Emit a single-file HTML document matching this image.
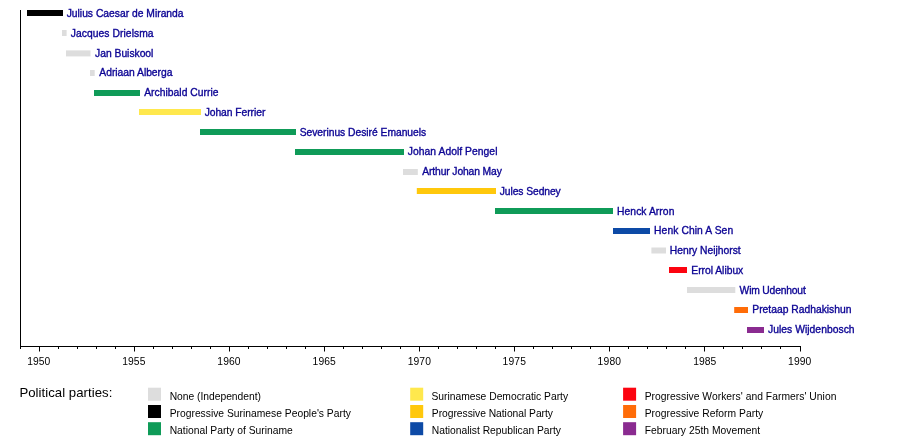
<!DOCTYPE html>
<html lang="en">
<head>
<meta charset="utf-8">
<title>Prime Ministers of Suriname timeline</title>
<style>
html,body{margin:0;padding:0;background:#fff;}
body{width:900px;height:446px;overflow:hidden;}
svg{display:block;}
text{font-family:"Liberation Sans", sans-serif;font-size:10.3px;white-space:pre;}
.nm{fill:#0c0494;stroke:#0c0494;stroke-width:0.35px;}
.ax{fill:#000;}
.lg{fill:#000;}
.ttl{fill:#000;font-size:13.2px;}
</style>
</head>
<body>
<svg width="900" height="446" viewBox="0 0 900 446">
<rect x="0" y="0" width="900" height="446" fill="#ffffff"/>
<rect x="27.0" y="10.00" width="36.0" height="6.0" fill="#000000"/>
<text class="nm" id="b0" x="66.65" y="17.00" textLength="116.92" lengthAdjust="spacing">Julius Caesar de Miranda</text>
<rect x="62.0" y="30.00" width="4.6" height="6.0" fill="#dddddd"/>
<text class="nm" id="b1" x="70.74" y="37.00" textLength="82.86" lengthAdjust="spacing">Jacques Drielsma</text>
<rect x="66.0" y="50.40" width="24.5" height="6.0" fill="#dddddd"/>
<text class="nm" id="b2" x="95.08" y="57.00" textLength="58.31" lengthAdjust="spacing">Jan Buiskool</text>
<rect x="90.0" y="70.00" width="4.7" height="6.0" fill="#dddddd"/>
<text class="nm" id="b3" x="99.36" y="76.00" textLength="73.08" lengthAdjust="spacing">Adriaan Alberga</text>
<rect x="94.0" y="90.00" width="46.0" height="6.0" fill="#0f9b58"/>
<text class="nm" id="b4" x="144.14" y="96.00" textLength="74.38" lengthAdjust="spacing">Archibald Currie</text>
<rect x="139.0" y="109.00" width="62.0" height="6.0" fill="#ffe84d"/>
<text class="nm" id="b5" x="204.65" y="116.00" textLength="60.72" lengthAdjust="spacing">Johan Ferrier</text>
<rect x="200.0" y="129.00" width="96.0" height="6.0" fill="#0f9b58"/>
<text class="nm" id="b6" x="299.65" y="136.00" textLength="126.53" lengthAdjust="spacing">Severinus Desiré Emanuels</text>
<rect x="295.0" y="149.00" width="109.0" height="6.0" fill="#0f9b58"/>
<text class="nm" id="b7" x="407.81" y="155.00" textLength="89.64" lengthAdjust="spacing">Johan Adolf Pengel</text>
<rect x="403.0" y="169.00" width="14.8" height="6.0" fill="#dddddd"/>
<text class="nm" id="b8" x="422.27" y="175.00" textLength="79.54" lengthAdjust="spacing">Arthur Johan May</text>
<rect x="416.8" y="188.00" width="79.2" height="6.0" fill="#ffc80c"/>
<text class="nm" id="b9" x="499.70" y="195.00" textLength="61.07" lengthAdjust="spacing">Jules Sedney</text>
<rect x="495.0" y="208.00" width="118.0" height="6.0" fill="#0f9b58"/>
<text class="nm" id="b10" x="617.06" y="215.00" textLength="57.32" lengthAdjust="spacing">Henck Arron</text>
<rect x="613.0" y="228.00" width="37.0" height="6.0" fill="#0d4aa6"/>
<text class="nm" id="b11" x="654.06" y="234.00" textLength="79.07" lengthAdjust="spacing">Henk Chin A Sen</text>
<rect x="651.4" y="247.50" width="14.6" height="6.0" fill="#dddddd"/>
<text class="nm" id="b12" x="669.79" y="254.00" textLength="70.86" lengthAdjust="spacing">Henry Neijhorst</text>
<rect x="669.0" y="267.00" width="18.0" height="6.0" fill="#fc0410"/>
<text class="nm" id="b13" x="691.29" y="274.00" textLength="51.96" lengthAdjust="spacing">Errol Alibux</text>
<rect x="687.0" y="287.00" width="48.3" height="6.0" fill="#dddddd"/>
<text class="nm" id="b14" x="739.60" y="294.00" textLength="66.17" lengthAdjust="spacing">Wim Udenhout</text>
<rect x="734.2" y="307.00" width="13.8" height="6.0" fill="#ff6c08"/>
<text class="nm" id="b15" x="752.31" y="313.00" textLength="99.12" lengthAdjust="spacing">Pretaap Radhakishun</text>
<rect x="747.0" y="327.00" width="17.0" height="6.0" fill="#8a2b90"/>
<text class="nm" id="b16" x="768.01" y="333.00" textLength="86.55" lengthAdjust="spacing">Jules Wijdenbosch</text>
<rect x="20" y="10" width="1" height="337" fill="#000"/>
<rect x="20" y="346" width="781" height="1" fill="#000"/>
<rect x="20" y="346" width="1" height="3" fill="#000"/>
<rect x="39" y="346" width="1" height="5.5" fill="#000"/>
<text class="ax" id="y1950" x="27.31" y="365.00" textLength="23.01" lengthAdjust="spacing">1950</text>
<rect x="58" y="346" width="1" height="3" fill="#000"/>
<rect x="77" y="346" width="1" height="3" fill="#000"/>
<rect x="96" y="346" width="1" height="3" fill="#000"/>
<rect x="115" y="346" width="1" height="3" fill="#000"/>
<rect x="134" y="346" width="1" height="5.5" fill="#000"/>
<text class="ax" id="y1955" x="122.29" y="365.00" textLength="23.08" lengthAdjust="spacing">1955</text>
<rect x="153" y="346" width="1" height="3" fill="#000"/>
<rect x="172" y="346" width="1" height="3" fill="#000"/>
<rect x="191" y="346" width="1" height="3" fill="#000"/>
<rect x="210" y="346" width="1" height="3" fill="#000"/>
<rect x="229" y="346" width="1" height="5.5" fill="#000"/>
<text class="ax" id="y1960" x="217.32" y="365.00" textLength="23.15" lengthAdjust="spacing">1960</text>
<rect x="248" y="346" width="1" height="3" fill="#000"/>
<rect x="267" y="346" width="1" height="3" fill="#000"/>
<rect x="286" y="346" width="1" height="3" fill="#000"/>
<rect x="305" y="346" width="1" height="3" fill="#000"/>
<rect x="324" y="346" width="1" height="5.5" fill="#000"/>
<text class="ax" id="y1965" x="312.56" y="365.00" textLength="23.19" lengthAdjust="spacing">1965</text>
<rect x="343" y="346" width="1" height="3" fill="#000"/>
<rect x="362" y="346" width="1" height="3" fill="#000"/>
<rect x="381" y="346" width="1" height="3" fill="#000"/>
<rect x="400" y="346" width="1" height="3" fill="#000"/>
<rect x="419" y="346" width="1" height="5.5" fill="#000"/>
<text class="ax" id="y1970" x="407.69" y="365.00" textLength="23.25" lengthAdjust="spacing">1970</text>
<rect x="438" y="346" width="1" height="3" fill="#000"/>
<rect x="457" y="346" width="1" height="3" fill="#000"/>
<rect x="476" y="346" width="1" height="3" fill="#000"/>
<rect x="495" y="346" width="1" height="3" fill="#000"/>
<rect x="514" y="346" width="1" height="5.5" fill="#000"/>
<text class="ax" id="y1975" x="502.48" y="365.00" textLength="23.50" lengthAdjust="spacing">1975</text>
<rect x="533" y="346" width="1" height="3" fill="#000"/>
<rect x="552" y="346" width="1" height="3" fill="#000"/>
<rect x="571" y="346" width="1" height="3" fill="#000"/>
<rect x="590" y="346" width="1" height="3" fill="#000"/>
<rect x="609" y="346" width="1" height="5.5" fill="#000"/>
<text class="ax" id="y1980" x="597.54" y="365.00" textLength="23.49" lengthAdjust="spacing">1980</text>
<rect x="628" y="346" width="1" height="3" fill="#000"/>
<rect x="647" y="346" width="1" height="3" fill="#000"/>
<rect x="666" y="346" width="1" height="3" fill="#000"/>
<rect x="685" y="346" width="1" height="3" fill="#000"/>
<rect x="704" y="346" width="1" height="5.5" fill="#000"/>
<text class="ax" id="y1985" x="693.15" y="365.00" textLength="23.14" lengthAdjust="spacing">1985</text>
<rect x="723" y="346" width="1" height="3" fill="#000"/>
<rect x="742" y="346" width="1" height="3" fill="#000"/>
<rect x="761" y="346" width="1" height="3" fill="#000"/>
<rect x="780" y="346" width="1" height="3" fill="#000"/>
<rect x="800" y="346" width="1" height="5.5" fill="#000"/>
<text class="ax" id="y1990" x="788.12" y="365.00" textLength="23.09" lengthAdjust="spacing">1990</text>
<text class="ttl" id="ttl" x="19.42" y="397.00" textLength="92.94" lengthAdjust="spacing">Political parties:</text>
<rect x="148.0" y="387.7" width="13" height="13" fill="#dddddd"/>
<text class="lg" id="l00" x="169.68" y="400.00" textLength="91.28" lengthAdjust="spacing">None (Independent)</text>
<rect x="148.0" y="405.0" width="13" height="13" fill="#000000"/>
<text class="lg" id="l01" x="169.68" y="417.00" textLength="181.25" lengthAdjust="spacing">Progressive Surinamese People's Party</text>
<rect x="148.0" y="422.2" width="13" height="13" fill="#0f9b58"/>
<text class="lg" id="l02" x="169.68" y="434.00" textLength="123.10" lengthAdjust="spacing">National Party of Suriname</text>
<rect x="410.2" y="387.7" width="13" height="13" fill="#ffe84d"/>
<text class="lg" id="l10" x="431.45" y="400.00" textLength="136.67" lengthAdjust="spacing">Surinamese Democratic Party</text>
<rect x="410.2" y="405.0" width="13" height="13" fill="#ffc80c"/>
<text class="lg" id="l11" x="431.83" y="417.00" textLength="121.15" lengthAdjust="spacing">Progressive National Party</text>
<rect x="410.2" y="422.2" width="13" height="13" fill="#0d4aa6"/>
<text class="lg" id="l12" x="431.83" y="434.00" textLength="129.16" lengthAdjust="spacing">Nationalist Republican Party</text>
<rect x="623.1" y="387.7" width="13" height="13" fill="#fc0410"/>
<text class="lg" id="l20" x="644.67" y="400.00" textLength="191.72" lengthAdjust="spacing">Progressive Workers' and Farmers' Union</text>
<rect x="623.1" y="405.0" width="13" height="13" fill="#ff6c08"/>
<text class="lg" id="l21" x="644.67" y="417.00" textLength="118.51" lengthAdjust="spacing">Progressive Reform Party</text>
<rect x="623.1" y="422.2" width="13" height="13" fill="#8a2b90"/>
<text class="lg" id="l22" x="644.67" y="434.00" textLength="115.41" lengthAdjust="spacing">February 25th Movement</text>
</svg>
</body>
</html>
